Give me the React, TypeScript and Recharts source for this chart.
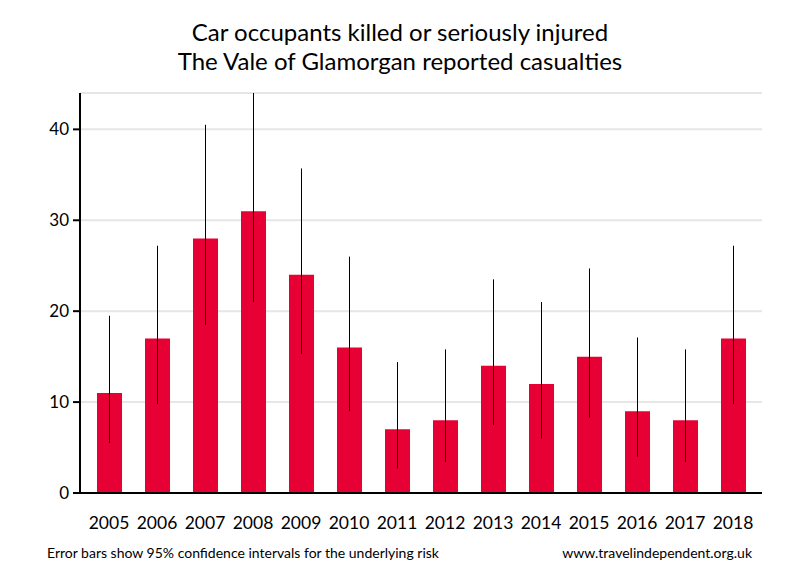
import React from 'react';
import { BarChart, Bar, XAxis, YAxis, CartesianGrid, ErrorBar } from 'recharts';

const years = ['2005', '2006', '2007', '2008', '2009', '2010', '2011', '2012', '2013', '2014', '2015', '2016', '2017', '2018'];
const casualties = [11, 17, 28, 31, 24, 16, 7, 8, 14, 12, 15, 9, 8, 17];
const lowerCI = [5.5, 9.8, 18.5, 21, 15.3, 9, 2.7, 3.4, 7.5, 6, 8.3, 4, 3.4, 9.8];
const upperCI = [19.5, 27.2, 40.5, 44, 35.7, 26, 14.4, 15.8, 23.5, 21, 24.7, 17.1, 15.8, 27.2];
const yTicks = [0, 10, 20, 30, 40];

const data = years.map((year, i) => ({
  year,
  value: casualties[i],
  err: [casualties[i] - lowerCI[i], upperCI[i] - casualties[i]],
}));

const font = 'Lato, "Open Sans", sans-serif';

const App: React.FC = () => {
  return (
    <div style={{ position: 'absolute', left: 0, top: 0, width: 800, height: 580, background: '#fff', fontFamily: font }}>
      <div style={{ position: 'absolute', top: 17, width: 800, textAlign: 'center', fontSize: 24, lineHeight: '29px', color: '#000' }}>
        <div>Car occupants killed or seriously injured</div>
        <div>The Vale of Glamorgan reported casualties</div>
      </div>
      <BarChart
        width={800}
        height={580}
        data={data}
        margin={{ top: 93, right: 38, left: 20, bottom: 57 }}
        barCategoryGap={0}
      >
        <CartesianGrid vertical={false} stroke='#e6e6e6' strokeWidth={2} />
        <XAxis
          dataKey='year'
          axisLine={{ stroke: '#000', strokeWidth: 2 }}
          tickLine={false}
          tickMargin={18}
          height={30}
          padding={{ left: 5, right: 5 }}
          tick={{ fontSize: 17.5, fill: '#000', fontFamily: font }}
          interval={0}
        />
        <YAxis
          width={60}
          domain={[0, 44]}
          ticks={yTicks}
          allowDataOverflow
          axisLine={{ stroke: '#000', strokeWidth: 2 }}
          tickLine={{ stroke: '#000', strokeWidth: 2 }}
          tickSize={7}
          tickMargin={4}
          tick={{ fontSize: 17, fill: '#000', fontFamily: font }}
        />
        <Bar dataKey='value' fill='#e60033' barSize={25} isAnimationActive={false}>
          <ErrorBar dataKey='err' width={0} stroke='#000' strokeWidth={1} direction='y' />
        </Bar>
      </BarChart>
      <div style={{ position: 'absolute', left: 47, top: 544, fontSize: 14, color: '#000' }}>
        Error bars show 95% confidence intervals for the underlying risk
      </div>
      <div style={{ position: 'absolute', right: 48, top: 544, fontSize: 14, color: '#000' }}>
        www.travelindependent.org.uk
      </div>
    </div>
  );
};

export default App;
